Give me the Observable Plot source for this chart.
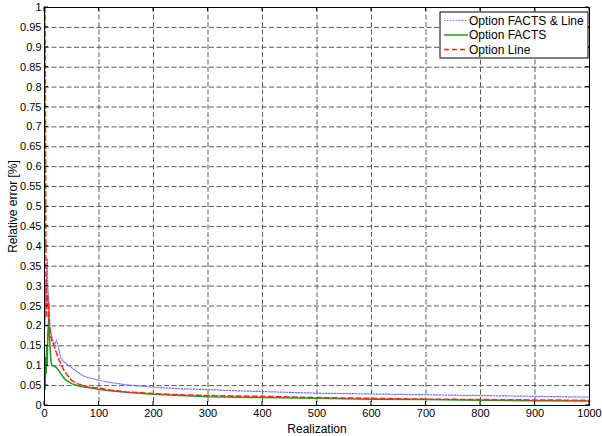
<!DOCTYPE html>
<html>
<head>
<meta charset="utf-8">
<script src="https://cdn.jsdelivr.net/npm/d3@7"></script>
<script src="https://cdn.jsdelivr.net/npm/@observablehq/plot@0.6"></script>
<style>
  body { margin: 0; background: #fff; }
  #chart svg { font-family: "Liberation Sans", Arial, sans-serif; }
</style>
</head>
<body>
<div id="chart"></div>
<script>
// Series: Option FACTS & Line (blue dotted)
const blueX = [1,2,3,4,5,6,7,8,9,10,12,14,16,18,20,22,25,28,30,35,40,45,50,60,70,80,90,100,120,150,200,250,300,350,400,450,500,550,600,650,700,750,800,850,900,950,1000];
const blueY = [0.2,0.3,0.25,0.33,0.37,0.3,0.28,0.24,0.22,0.2,0.18,0.17,0.16,0.15,0.16,0.164,0.15,0.13,0.12,0.11,0.105,0.1,0.095,0.085,0.075,0.07,0.067,0.063,0.058,0.052,0.046,0.042,0.04,0.037,0.035,0.033,0.031,0.03,0.029,0.028,0.027,0.026,0.025,0.024,0.023,0.022,0.021];
// Series: Option FACTS (green solid)
const greenX = [1,2,3,4,5,6,7,8,9,10,11,12,14,16,18,20,22,25,30,35,40,50,60,70,80,100,120,150,200,300,400,500,600,700,800,900,1000];
const greenY = [0.04,0.12,0.08,0.15,0.1,0.18,0.2,0.22,0.17,0.15,0.13,0.11,0.1,0.1,0.098,0.097,0.095,0.09,0.08,0.07,0.063,0.055,0.05,0.047,0.045,0.041,0.037,0.033,0.028,0.022,0.02,0.018,0.016,0.015,0.013,0.012,0.011];
// Series: Option Line (red dashed)
const redX = [1,2,3,4,5,6,7,8,9,10,12,14,16,18,20,25,30,35,40,50,60,70,80,100,120,150,200,250,300,400,500,600,700,800,900,1000];
const redY = [1.0,0.62,0.22,0.3,0.25,0.28,0.22,0.26,0.2,0.19,0.17,0.16,0.155,0.15,0.14,0.12,0.105,0.09,0.08,0.063,0.055,0.05,0.046,0.044,0.039,0.034,0.03,0.027,0.025,0.023,0.02,0.018,0.016,0.015,0.014,0.013];

const seriesNames = ["Option FACTS & Line", "Option FACTS", "Option Line"];
const seriesColors = ["#7070ff", "#1f9a1f", "#ff2a10"];
const seriesDash = ["1.5,1.5", null, "5,3"];

const xTicks = [0,100,200,300,400,500,600,700,800,900,1000];
const yTicks = [0,0.05,0.1,0.15,0.2,0.25,0.3,0.35,0.4,0.45,0.5,0.55,0.6,0.65,0.7,0.75,0.8,0.85,0.9,0.95,1];

const mk = (xs, ys) => xs.map((x, i) => ({x, y: ys[i]}));
const blue = mk(blueX, blueY), green = mk(greenX, greenY), red = mk(redX, redY);

const W = 602, H = 436;
const plot = Plot.plot({
  width: W, height: H,
  marginLeft: 44, marginRight: 13, marginTop: 7, marginBottom: 31,
  style: {fontSize: "11px", fontFamily: "Liberation Sans, Arial, sans-serif", color: "#000", background: "#fff"},
  x: {type: "linear", domain: [0, 1000], label: null},
  y: {type: "linear", domain: [0, 1], label: null},
  marks: [
    Plot.ruleX(xTicks.slice(1, -1), {x: d => d, stroke: "#5a5a5a", strokeOpacity: 1, strokeDasharray: "5,2.5", strokeWidth: 1}),
    Plot.ruleY(yTicks.slice(1, -1), {y: d => d, stroke: "#5a5a5a", strokeOpacity: 1, strokeDasharray: "5,2.5", strokeWidth: 1}),
    Plot.line(blue, {x: "x", y: "y", stroke: seriesColors[0], strokeDasharray: seriesDash[0], strokeWidth: 1.2}),
    Plot.line(green, {x: "x", y: "y", stroke: seriesColors[1], strokeWidth: 1.5}),
    Plot.line(red, {x: "x", y: "y", stroke: seriesColors[2], strokeDasharray: seriesDash[2], strokeWidth: 1.5}),
    Plot.frame({stroke: "#000", strokeWidth: 1}),
    Plot.axisX({ticks: xTicks, tickSize: 0, tickPadding: 4, tickFormat: d => String(d), label: "Realization", labelAnchor: "center", labelOffset: 27, labelArrow: "none", fontSize: 11}),
    Plot.axisY({ticks: yTicks, tickSize: 0, tickPadding: 3, tickFormat: d => String(+d.toFixed(2)), label: "Relative error [%]", labelAnchor: "center", labelOffset: 36, labelArrow: "none", fontSize: 11}),
  ]
});
document.getElementById("chart").appendChild(plot);

const svg = d3.select(plot);
svg.selectAll("[aria-label='x-axis label'] text, [aria-label='y-axis label'] text").style("font-size", "12px");

// inward MATLAB-style tick marks on all four sides, positioned through the scales
const xs = plot.scale("x"), ys = plot.scale("y");
const [px0, px1] = xs.range, [py0, py1] = ys.range; // py0 bottom, py1 top
const tg = svg.append("g").attr("stroke", "#000").attr("stroke-width", 1);
xTicks.forEach(t => {
  const px = xs.apply(t);
  tg.append("line").attr("x1", px).attr("x2", px).attr("y1", py0).attr("y2", py0 - 4);
  tg.append("line").attr("x1", px).attr("x2", px).attr("y1", py1).attr("y2", py1 + 4);
});
yTicks.forEach(t => {
  const py = ys.apply(t);
  tg.append("line").attr("x1", px0).attr("x2", px0 + 4).attr("y1", py).attr("y2", py);
  tg.append("line").attr("x1", px1).attr("x2", px1 - 4).attr("y1", py).attr("y2", py);
});

// Legend inside plot, top right
const lx = 440, ly = 12, lw = 148, lh = 46;
const g = svg.append("g").attr("class", "legend").attr("text-anchor", "start");
g.append("rect").attr("x", lx).attr("y", ly).attr("width", lw).attr("height", lh)
  .attr("fill", "#fff").attr("stroke", "#000").attr("stroke-width", 1);
seriesNames.forEach((name, i) => {
  const yy = ly + 8.5 + i * 14.5;
  g.append("line").attr("x1", lx + 4).attr("x2", lx + 28).attr("y1", yy).attr("y2", yy)
    .attr("stroke", seriesColors[i]).attr("stroke-width", i === 0 ? 1.2 : 1.5)
    .attr("stroke-dasharray", seriesDash[i]);
  g.append("text").attr("x", lx + 29).attr("y", yy).attr("dy", "0.35em")
    .attr("text-anchor", "start").attr("font-size", "12px").attr("fill", "#000").text(name);
});
</script>
</body>
</html>
